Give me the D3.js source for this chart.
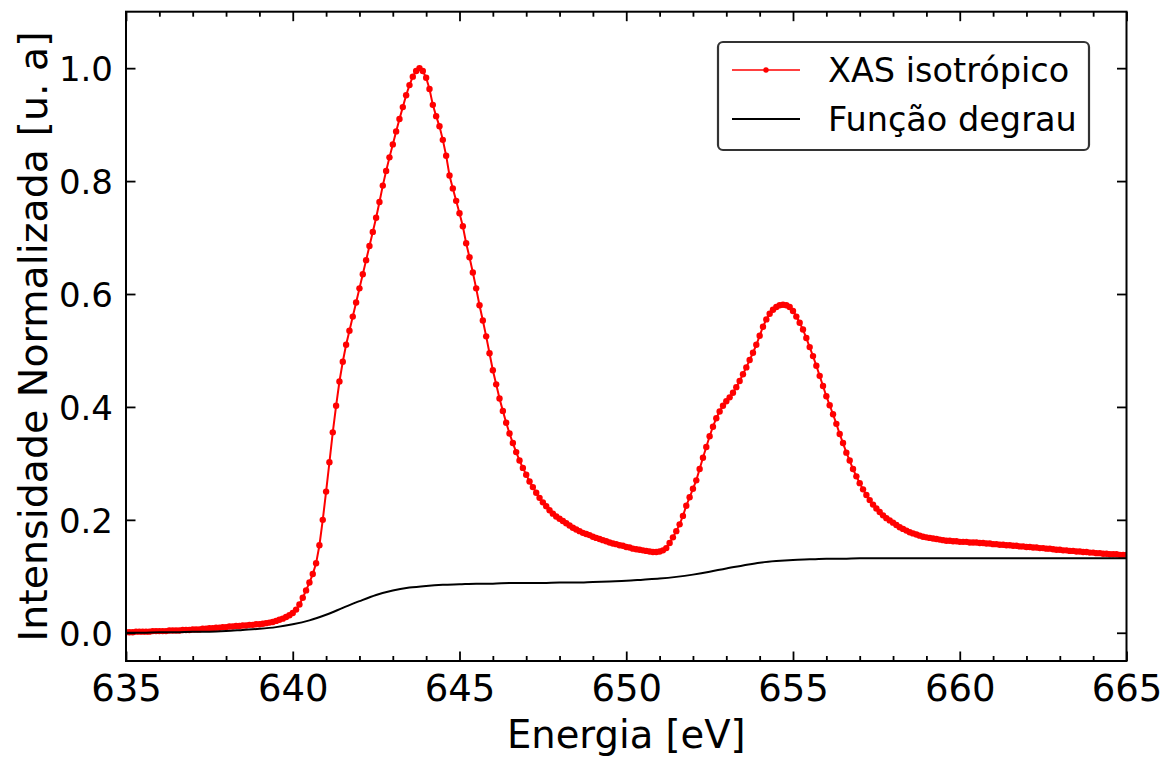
<!DOCTYPE html>
<html>
<head>
<meta charset="utf-8">
<script src="https://cdn.jsdelivr.net/npm/d3@7"></script>
<style>
  html, body { margin: 0; padding: 0; background: #fff; }
  svg { display: block; }
  text { font-family: "DejaVu Sans", sans-serif; fill: #000; }
</style>
</head>
<body>
<svg id="chart" width="1170" height="758"></svg>
<script>
// ---------------- data ----------------
const xasEnergy = [
635.0,635.1,635.2,635.3,635.4,635.5,635.6,635.7,635.8,635.9,
636.0,636.1,636.2,636.3,636.4,636.5,636.6,636.7,636.8,636.9,
637.0,637.1,637.2,637.3,637.4,637.5,637.6,637.7,637.8,637.9,
638.0,638.1,638.2,638.3,638.4,638.5,638.6,638.7,638.8,638.9,
639.0,639.1,639.2,639.3,639.4,639.5,639.6,639.7,639.8,639.9,
640.0,640.1,640.2,640.3,640.4,640.5,640.6,640.7,640.8,640.9,
641.0,641.1,641.2,641.3,641.4,641.5,641.6,641.7,641.8,641.9,
642.0,642.1,642.2,642.3,642.4,642.5,642.6,642.7,642.8,642.9,
643.0,643.1,643.2,643.3,643.4,643.5,643.6,643.7,643.8,643.9,
644.0,644.1,644.2,644.3,644.4,644.5,644.6,644.7,644.8,644.9,
645.0,645.1,645.2,645.3,645.4,645.5,645.6,645.7,645.8,645.9,
646.0,646.1,646.2,646.3,646.4,646.5,646.6,646.7,646.8,646.9,
647.0,647.1,647.2,647.3,647.4,647.5,647.6,647.7,647.8,647.9,
648.0,648.1,648.2,648.3,648.4,648.5,648.6,648.7,648.8,648.9,
649.0,649.1,649.2,649.3,649.4,649.5,649.6,649.7,649.8,649.9,
650.0,650.1,650.2,650.3,650.4,650.5,650.6,650.7,650.8,650.9,
651.0,651.1,651.2,651.3,651.4,651.5,651.6,651.7,651.8,651.9,
652.0,652.1,652.2,652.3,652.4,652.5,652.6,652.7,652.8,652.9,
653.0,653.1,653.2,653.3,653.4,653.5,653.6,653.7,653.8,653.9,
654.0,654.1,654.2,654.3,654.4,654.5,654.6,654.7,654.8,654.9,
655.0,655.1,655.2,655.3,655.4,655.5,655.6,655.7,655.8,655.9,
656.0,656.1,656.2,656.3,656.4,656.5,656.6,656.7,656.8,656.9,
657.0,657.1,657.2,657.3,657.4,657.5,657.6,657.7,657.8,657.9,
658.0,658.1,658.2,658.3,658.4,658.5,658.6,658.7,658.8,658.9,
659.0,659.1,659.2,659.3,659.4,659.5,659.6,659.7,659.8,659.9,
660.0,660.1,660.2,660.3,660.4,660.5,660.6,660.7,660.8,660.9,
661.0,661.1,661.2,661.3,661.4,661.5,661.6,661.7,661.8,661.9,
662.0,662.1,662.2,662.3,662.4,662.5,662.6,662.7,662.8,662.9,
663.0,663.1,663.2,663.3,663.4,663.5,663.6,663.7,663.8,663.9,
664.0,664.1,664.2,664.3,664.4,664.5,664.6,664.7,664.8,664.9,
665.0];

const xasIntensity = [
0.001,0.001,0.001,0.002,0.002,0.002,0.002,0.002,0.003,0.003,
0.003,0.003,0.003,0.004,0.004,0.004,0.004,0.005,0.005,0.005,
0.006,0.006,0.006,0.007,0.007,0.008,0.008,0.009,0.009,0.010,
0.010,0.011,0.011,0.012,0.012,0.013,0.013,0.014,0.014,0.015,
0.015,0.016,0.017,0.018,0.019,0.021,0.023,0.025,0.028,0.031,
0.035,0.041,0.050,0.062,0.075,0.089,0.104,0.123,0.155,0.200,
0.250,0.302,0.355,0.402,0.445,0.480,0.510,0.535,0.560,0.585,
0.610,0.635,0.660,0.685,0.710,0.735,0.763,0.792,0.818,0.842,
0.865,0.888,0.910,0.931,0.952,0.970,0.985,0.995,1.000,0.995,
0.983,0.963,0.935,0.915,0.897,0.873,0.845,0.810,0.787,0.765,
0.743,0.720,0.690,0.665,0.638,0.610,0.580,0.553,0.525,0.495,
0.465,0.440,0.415,0.393,0.372,0.353,0.336,0.320,0.305,0.292,
0.280,0.268,0.258,0.248,0.239,0.231,0.224,0.217,0.211,0.206,
0.202,0.198,0.194,0.190,0.186,0.183,0.180,0.177,0.175,0.173,
0.170,0.168,0.166,0.164,0.162,0.160,0.158,0.157,0.155,0.154,
0.152,0.151,0.149,0.148,0.147,0.146,0.145,0.144,0.143,0.143,
0.144,0.146,0.150,0.159,0.169,0.180,0.192,0.207,0.225,0.240,
0.255,0.270,0.290,0.310,0.329,0.348,0.365,0.380,0.392,0.402,
0.410,0.417,0.425,0.435,0.446,0.458,0.470,0.483,0.496,0.510,
0.526,0.542,0.555,0.565,0.572,0.577,0.580,0.581,0.580,0.577,
0.570,0.560,0.549,0.537,0.522,0.506,0.490,0.473,0.455,0.437,
0.419,0.403,0.387,0.370,0.352,0.336,0.319,0.305,0.290,0.277,
0.265,0.254,0.244,0.235,0.227,0.220,0.214,0.208,0.203,0.199,
0.195,0.191,0.187,0.184,0.181,0.178,0.176,0.174,0.172,0.170,
0.169,0.168,0.167,0.166,0.165,0.164,0.163,0.163,0.162,0.162,
0.161,0.161,0.161,0.160,0.160,0.160,0.159,0.159,0.158,0.158,
0.157,0.157,0.156,0.156,0.155,0.155,0.154,0.154,0.153,0.153,
0.152,0.152,0.151,0.151,0.150,0.150,0.149,0.149,0.148,0.147,
0.147,0.146,0.146,0.145,0.145,0.144,0.144,0.143,0.143,0.142,
0.142,0.141,0.141,0.140,0.140,0.139,0.139,0.139,0.138,0.138,
0.138];

const stepEnergy = [
635.0,635.5,636.0,636.5,637.0,637.5,638.0,638.5,639.0,639.5,
640.0,640.5,641.0,641.5,642.0,642.5,643.0,643.5,644.0,644.5,
645.0,645.5,646.0,646.5,647.0,647.5,648.0,648.5,649.0,649.5,
650.0,650.5,651.0,651.5,652.0,652.5,653.0,653.5,654.0,654.5,
655.0,655.5,656.0,656.5,657.0,657.5,658.0,658.5,659.0,659.5,
660.0,660.5,661.0,661.5,662.0,662.5,663.0,663.5,664.0,664.5,
665.0];

const stepIntensity = [
0.000,0.000,0.001,0.001,0.002,0.002,0.003,0.005,0.007,0.010,
0.015,0.022,0.032,0.044,0.056,0.067,0.075,0.080,0.083,0.085,
0.086,0.087,0.087,0.088,0.088,0.088,0.089,0.089,0.090,0.091,
0.092,0.094,0.096,0.099,0.103,0.108,0.114,0.119,0.124,0.127,
0.129,0.130,0.131,0.131,0.132,0.132,0.132,0.132,0.132,0.132,
0.132,0.132,0.132,0.132,0.132,0.132,0.132,0.132,0.132,0.132,
0.132];

const xTickValues = [635, 640, 645, 650, 655, 660, 665];
const yTickValues = [0.0, 0.2, 0.4, 0.6, 0.8, 1.0];
const seriesNames = ["XAS isotrópico", "Função degrau"];
const xLabel = "Energia [eV]";
const yLabel = "Intensidade Normalizada [u. a]";

// ---------------- layout ----------------
const svg = d3.select("#chart");
const L = 126, R = 1126.5, T = 11.7, B = 661;
const x = d3.scaleLinear().domain([635, 665]).range([L, R]);
const y = d3.scaleLinear().domain([-0.05, 1.1]).range([B, T]);
const FS_XTICK = 37, FS_YTICK = 34, FS_XLAB = 38.5, FS_YLAB = 39.5, FS_LEG = 33.5;

svg.append("defs").append("clipPath").attr("id", "clip")
  .append("rect").attr("x", L).attr("y", T).attr("width", R - L).attr("height", B - T);

const plot = svg.append("g").attr("clip-path", "url(#clip)");

const xas = xasEnergy.map((e, i) => [e, xasIntensity[i]]);
const step = stepEnergy.map((e, i) => [e, stepIntensity[i]]);

const line = d3.line().x(d => x(d[0])).y(d => y(d[1]));
const smooth = d3.line().x(d => x(d[0])).y(d => y(d[1])).curve(d3.curveMonotoneX);

plot.append("path").datum(xas).attr("d", line)
  .attr("fill", "none").attr("stroke", "#ff0000").attr("stroke-width", 2);
plot.append("g").selectAll("circle").data(xas).join("circle")
  .attr("cx", d => x(d[0])).attr("cy", d => y(d[1])).attr("r", 3.2)
  .attr("fill", "#ff0000");
plot.append("path").datum(step).attr("d", smooth)
  .attr("fill", "none").attr("stroke", "#000").attr("stroke-width", 2);

// ---------------- axes ----------------
const minorX = d3.range(636, 665, 1).filter(v => v % 5 !== 0);

function axisStyle(g) {
  g.select(".domain").remove();
  g.selectAll("line").attr("stroke", "#000").attr("stroke-width", 1.8);
}

// bottom
svg.append("g").attr("transform", `translate(0,${B})`)
  .call(d3.axisBottom(x).tickValues(xTickValues).tickSize(-9.5).tickPadding(0).tickFormat(d3.format("d")))
  .call(axisStyle)
  .call(g => g.selectAll("text").attr("font-size", FS_XTICK).attr("y", 39.5).attr("dy", 0).attr("font-family", "DejaVu Sans"));
svg.append("g").attr("transform", `translate(0,${B})`)
  .call(d3.axisBottom(x).tickValues(minorX).tickSize(-5).tickFormat(""))
  .call(axisStyle);
// top
svg.append("g").attr("transform", `translate(0,${T})`)
  .call(d3.axisTop(x).tickValues(xTickValues).tickSize(-9.5).tickFormat(""))
  .call(axisStyle);
svg.append("g").attr("transform", `translate(0,${T})`)
  .call(d3.axisTop(x).tickValues(minorX).tickSize(-5).tickFormat(""))
  .call(axisStyle);
// left
svg.append("g").attr("transform", `translate(${L},0)`)
  .call(d3.axisLeft(y).tickValues(yTickValues).tickSize(-9.5).tickPadding(13).tickFormat(d3.format(".1f")))
  .call(axisStyle)
  .call(g => g.selectAll("text").attr("font-size", FS_YTICK).attr("x", -13).attr("dy", "0.36em").attr("font-family", "DejaVu Sans"));
// right
svg.append("g").attr("transform", `translate(${R},0)`)
  .call(d3.axisRight(y).tickValues(yTickValues).tickSize(-9.5).tickFormat(""))
  .call(axisStyle);

// frame
svg.append("rect").attr("x", L).attr("y", T).attr("width", R - L).attr("height", B - T)
  .attr("fill", "none").attr("stroke", "#000").attr("stroke-width", 2);

// axis labels
svg.append("text").attr("x", (L + R) / 2).attr("y", 748).attr("text-anchor", "middle")
  .attr("font-size", FS_XLAB).text(xLabel);
svg.append("text").attr("transform", `translate(47,${(T + B) / 2}) rotate(-90)`)
  .attr("text-anchor", "middle").attr("font-size", FS_YLAB).text(yLabel);

// ---------------- legend ----------------
const lg = svg.append("g");
lg.append("rect").attr("x", 718).attr("y", 42).attr("width", 371).attr("height", 108)
  .attr("rx", 5).attr("fill", "#fff").attr("stroke", "#333").attr("stroke-width", 2.2);
const legendRows = [
  { name: seriesNames[0], color: "#ff0000", dot: true, width: 1.6, yy: 70 },
  { name: seriesNames[1], color: "#000", dot: false, width: 2, yy: 119 }
];
legendRows.forEach(r => {
  lg.append("line").attr("x1", 732).attr("x2", 800).attr("y1", r.yy).attr("y2", r.yy)
    .attr("stroke", r.color).attr("stroke-width", r.width);
  if (r.dot) lg.append("circle").attr("cx", 766).attr("cy", r.yy).attr("r", 2.7).attr("fill", r.color);
  lg.append("text").attr("x", 828).attr("y", r.yy).attr("dy", "0.36em")
    .attr("font-size", FS_LEG).text(r.name);
});
</script>
</body>
</html>
